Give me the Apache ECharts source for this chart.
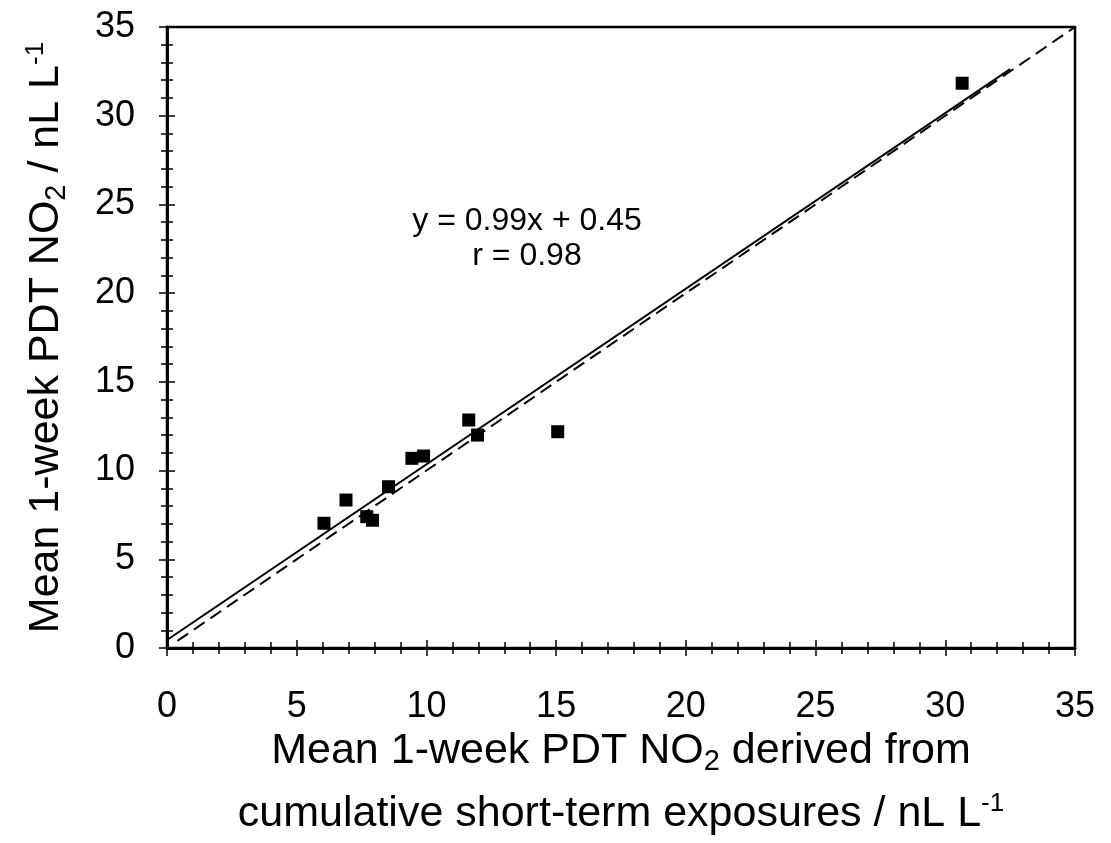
<!DOCTYPE html>
<html>
<head>
<meta charset="utf-8">
<script src="https://cdn.jsdelivr.net/npm/echarts@6/dist/echarts.min.js"></script>
<style>
  html, body { margin: 0; padding: 0; background: #fff; }
  #main { width: 1111px; height: 843px; }
</style>
</head>
<body>
<div id="main"></div>
<script>
// cumulative short-term derived NO2 (x) vs PDT NO2 (y), nL/L
var xVals = [6.05, 6.9, 7.7, 7.92, 8.54, 9.44, 9.89, 11.63, 11.97, 15.06, 30.65];
var yVals = [7.03, 8.34, 7.4, 7.2, 9.09, 10.69, 10.82, 12.85, 12.0, 12.19, 31.83];
// regression line end points and 1:1 line end points
var fitLine = [[0, 0.45], [32.5, 32.63]];
var oneToOne = [[0.4, 0.4], [35, 35]];

var points = xVals.map(function (x, i) { return [x, yVals[i]]; });

var font = 'Liberation Sans, Arial, sans-serif';
var rich = {
  sub: { fontSize: 29, fontFamily: font, color: '#000', padding: [20, 0, 0, 0] },
  sup: { fontSize: 26, fontFamily: font, color: '#000', padding: [0, 0, 22, 0] }
};

function makeAxis(inside, isX) {
  return {
    type: 'value',
    min: 0,
    max: 35,
    interval: 5,
    position: isX ? 'bottom' : 'left',
    splitLine: { show: false },
    axisLine: { show: true, onZero: false, lineStyle: { color: '#000', width: 2.5 } },
    axisTick: { show: true, inside: inside, length: 8, lineStyle: { color: '#000', width: 1.5 } },
    minorTick: { show: true, splitNumber: 5, length: 6, lineStyle: { color: '#000', width: 1.5 } },
    axisLabel: {
      show: !inside,
      color: '#000',
      fontSize: 36,
      fontFamily: font,
      margin: isX ? 41 : 32
    }
  };
}

var xMain = makeAxis(false, true);
xMain.name = 'Mean 1-week PDT NO{sub|2} derived from\ncumulative short-term exposures / nL L{sup|-1}';
xMain.nameLocation = 'middle';
xMain.nameGap = 72;
xMain.nameMoveOverlap = false;
xMain.nameTextStyle = { color: '#000', fontSize: 43, fontFamily: font, lineHeight: 63, rich: rich };

var yMain = makeAxis(false, false);
yMain.name = 'Mean 1-week PDT NO{sub|2} / nL L{sup|-1}';
yMain.nameLocation = 'middle';
yMain.nameGap = 96;
yMain.nameRotate = 90;
yMain.nameMoveOverlap = false;
yMain.nameTextStyle = { color: '#000', fontSize: 43, fontFamily: font, rich: rich };

var chart = echarts.init(document.getElementById('main'));
chart.setOption({
  animation: false,
  backgroundColor: '#fff',
  grid: {
    left: 167, right: 36, top: 27, bottom: 195,
    outerBoundsMode: 'none',
    containLabel: false,
    show: true, borderColor: '#000', borderWidth: 2.5, backgroundColor: 'transparent'
  },
  xAxis: [xMain, makeAxis(true, true)],
  yAxis: [yMain, makeAxis(true, false)],
  graphic: [
    {
      type: 'text', x: 527, y: 221,
      style: { text: 'y = 0.99x + 0.45', fontSize: 32, fontFamily: font, fill: '#000', align: 'center', verticalAlign: 'middle' }
    },
    {
      type: 'text', x: 527, y: 256,
      style: { text: 'r = 0.98', fontSize: 32, fontFamily: font, fill: '#000', align: 'center', verticalAlign: 'middle' }
    }
  ],
  series: [
    {
      type: 'line',
      data: oneToOne,
      symbol: 'none',
      lineStyle: { color: '#000', width: 2, type: [13, 7] },
      z: 2
    },
    {
      type: 'line',
      data: fitLine,
      symbol: 'none',
      lineStyle: { color: '#000', width: 2 },
      z: 3
    },
    {
      type: 'scatter',
      data: points,
      symbol: 'rect',
      symbolSize: 13,
      itemStyle: { color: '#000', opacity: 1 },
      z: 4
    }
  ]
});
</script>
</body>
</html>
